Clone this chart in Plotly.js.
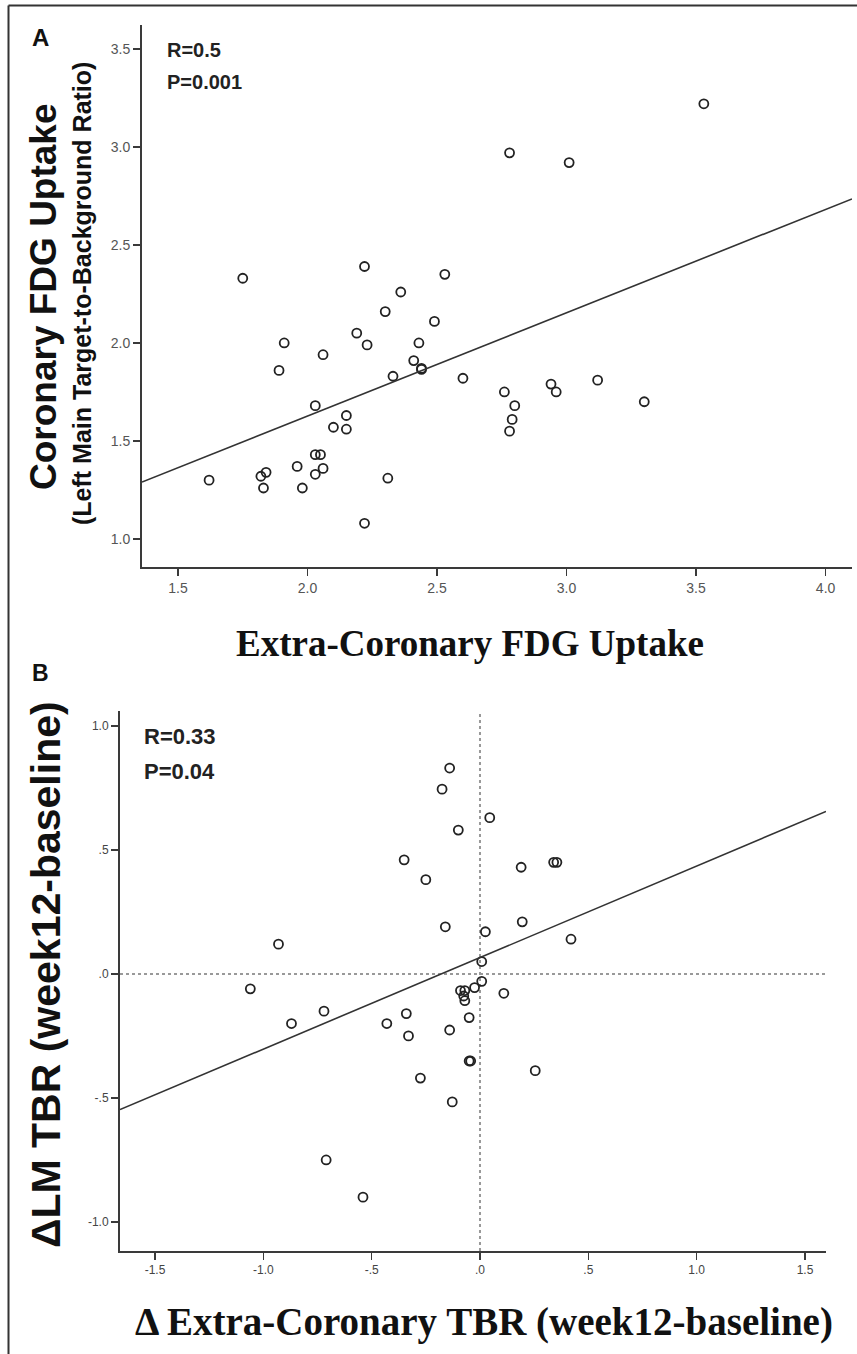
<!DOCTYPE html>
<html>
<head>
<meta charset="utf-8">
<script src="https://cdn.plot.ly/plotly-3.0.1.min.js"></script>
<style>html,body{margin:0;padding:0;background:#fff;}#chart{width:857px;height:1354px;}</style>
</head>
<body>
<div id="chart"></div>
<script>
// ---------- Panel A data ----------
const extraCoronaryA = [1.62,1.82,1.84,1.83,1.89,1.91,1.96,1.98,2.03,2.06,2.03,2.03,2.05,2.06,2.10,2.15,2.15,2.19,2.23,2.30,2.33,2.31,2.22,2.43,2.41,2.44,2.44,2.49,1.75,2.22,2.36,2.53,2.60,2.76,2.80,2.79,2.78,2.94,2.96,3.12,3.30,3.53,2.78,3.01];
const coronaryA = [1.30,1.32,1.34,1.26,1.86,2.00,1.37,1.26,1.68,1.94,1.33,1.43,1.43,1.36,1.57,1.63,1.56,2.05,1.99,2.16,1.83,1.31,1.08,2.00,1.91,1.87,1.865,2.11,2.33,2.39,2.26,2.35,1.82,1.75,1.68,1.61,1.55,1.79,1.75,1.81,1.70,3.22,2.97,2.92];
const fitA_x = [1.361, 4.102];
const fitA_y = [1.290, 2.735];
const tickValsAx = [1.5, 2.0, 2.5, 3.0, 3.5, 4.0];
const tickTextAx = ["1.5", "2.0", "2.5", "3.0", "3.5", "4.0"];
const tickValsAy = [1.0, 1.5, 2.0, 2.5, 3.0, 3.5];
const tickTextAy = ["1.0", "1.5", "2.0", "2.5", "3.0", "3.5"];

// ---------- Panel B data ----------
const deltaExtraB = [-1.06,-0.93,-0.87,-0.72,-0.71,-0.54,-0.43,-0.34,-0.33,-0.275,-0.35,-0.25,-0.14,-0.175,0.045,-0.10,0.19,0.34,0.355,-0.16,0.025,0.195,0.42,0.008,0.008,-0.025,-0.09,-0.07,-0.075,-0.07,0.11,-0.05,-0.14,-0.05,-0.043,0.255,-0.128];
const deltaLMB = [-0.06,0.12,-0.20,-0.15,-0.75,-0.90,-0.20,-0.16,-0.25,-0.42,0.46,0.38,0.83,0.745,0.63,0.58,0.43,0.45,0.45,0.19,0.17,0.21,0.14,0.05,-0.03,-0.055,-0.067,-0.067,-0.089,-0.108,-0.078,-0.176,-0.226,-0.351,-0.351,-0.39,-0.516];
const fitB_x = [-1.6615, 1.597];
const fitB_y = [-0.547, 0.655];
const tickValsBx = [-1.5, -1.0, -0.5, 0, 0.5, 1.0, 1.5];
const tickTextBx = ["-1.5", "-1.0", "-.5", ".0", ".5", "1.0", "1.5"];
const tickValsBy = [-1.0, -0.5, 0, 0.5, 1.0];
const tickTextBy = ["-1.0", "-.5", ".0", ".5", "1.0"];

const W = 857, H = 1354;
const px = v => v / W;
const py = v => 1 - v / H;

const marker = {symbol: 'circle-open', size: 9, color: '#222', line: {width: 1.8, color: '#222'}};
const fitLine = {color: '#333', width: 1.6};

const traces = [
  {x: extraCoronaryA, y: coronaryA, type: 'scatter', mode: 'markers', marker: marker, xaxis: 'x', yaxis: 'y', hoverinfo: 'x+y'},
  {x: fitA_x, y: fitA_y, type: 'scatter', mode: 'lines', line: fitLine, xaxis: 'x', yaxis: 'y'},
  {x: deltaExtraB, y: deltaLMB, type: 'scatter', mode: 'markers', marker: marker, xaxis: 'x2', yaxis: 'y2', hoverinfo: 'x+y'},
  {x: fitB_x, y: fitB_y, type: 'scatter', mode: 'lines', line: fitLine, xaxis: 'x2', yaxis: 'y2'}
];

const tickFontA = {family: 'Liberation Sans, Arial, sans-serif', size: 14, color: '#555'};
const tickFontB = {family: 'Liberation Sans, Arial, sans-serif', size: 12, color: '#444'};
const axisCommon = {showline: true, linecolor: '#3a3a3a', linewidth: 2, ticks: 'outside', ticklen: 7, tickwidth: 1.5, tickcolor: '#3a3a3a', showgrid: false, zeroline: false, fixedrange: true};

const layout = {
  width: W, height: H, autosize: false,
  margin: {l: 0, r: 0, t: 0, b: 0},
  paper_bgcolor: '#fff', plot_bgcolor: '#fff',
  showlegend: false,
  xaxis: Object.assign({}, axisCommon, {domain: [px(142), px(852)], range: [1.361, 4.102], tickvals: tickValsAx, ticktext: tickTextAx, tickfont: tickFontA, anchor: 'y'}),
  yaxis: Object.assign({}, axisCommon, {domain: [py(567), py(25)], range: [0.857, 3.622], tickvals: tickValsAy, ticktext: tickTextAy, tickfont: tickFontA, anchor: 'x'}),
  xaxis2: Object.assign({}, axisCommon, {domain: [px(120), px(826)], range: [-1.6615, 1.597], tickvals: tickValsBx, ticktext: tickTextBx, tickfont: tickFontB, anchor: 'y2'}),
  yaxis2: Object.assign({}, axisCommon, {domain: [py(1251), py(711)], range: [-1.117, 1.060], tickvals: tickValsBy, ticktext: tickTextBy, tickfont: tickFontB, anchor: 'x2'}),
  shapes: [
    {type: 'line', xref: 'paper', yref: 'paper', x0: px(8.5), x1: px(8.5), y0: py(5.5), y1: 0, line: {color: '#333', width: 2}},
    {type: 'line', xref: 'paper', yref: 'paper', x0: px(8.5), x1: 1, y0: py(5.5), y1: py(5.5), line: {color: '#333', width: 2}},
    {type: 'line', xref: 'x2', yref: 'y2 domain', x0: 0, x1: 0, y0: 0, y1: 1, line: {color: '#999', width: 2, dash: 'dot'}, layer: 'below'},
    {type: 'line', xref: 'x2 domain', yref: 'y2', x0: 0, x1: 1, y0: 0, y1: 0, line: {color: '#999', width: 2, dash: 'dot'}, layer: 'below'}
  ],
  annotations: [
    {text: '<b>A</b>', xref: 'paper', yref: 'paper', x: px(40), y: py(38), showarrow: false, xanchor: 'center', yanchor: 'middle', font: {family: 'Liberation Sans, Arial', size: 24, color: '#111'}},
    {text: '<b>R=0.5</b>', xref: 'paper', yref: 'paper', x: px(165), y: py(50), showarrow: false, xanchor: 'left', yanchor: 'middle', font: {family: 'Liberation Sans, Arial', size: 20, color: '#222'}},
    {text: '<b>P=0.001</b>', xref: 'paper', yref: 'paper', x: px(165), y: py(82), showarrow: false, xanchor: 'left', yanchor: 'middle', font: {family: 'Liberation Sans, Arial', size: 20, color: '#222'}},
    {text: '<b>Coronary FDG Uptake</b>', xref: 'paper', yref: 'paper', x: px(43), y: py(297), showarrow: false, textangle: -90, xanchor: 'center', yanchor: 'middle', font: {family: 'Liberation Sans, Arial', size: 37, color: '#111'}},
    {text: '<b>(Left Main Target-to-Background Ratio)</b>', xref: 'paper', yref: 'paper', x: px(82), y: py(294), showarrow: false, textangle: -90, xanchor: 'center', yanchor: 'middle', font: {family: 'Liberation Sans, Arial', size: 25, color: '#111'}},
    {text: '<b>Extra-Coronary FDG Uptake</b>', xref: 'paper', yref: 'paper', x: px(470), y: py(643), showarrow: false, xanchor: 'center', yanchor: 'middle', font: {family: 'Liberation Serif, Times New Roman, serif', size: 37, color: '#111'}},
    {text: '<b>B</b>', xref: 'paper', yref: 'paper', x: px(40), y: py(673), showarrow: false, xanchor: 'center', yanchor: 'middle', font: {family: 'Liberation Sans, Arial', size: 23, color: '#111'}},
    {text: '<b>R=0.33</b>', xref: 'paper', yref: 'paper', x: px(142), y: py(736), showarrow: false, xanchor: 'left', yanchor: 'middle', font: {family: 'Liberation Sans, Arial', size: 22, color: '#222'}},
    {text: '<b>P=0.04</b>', xref: 'paper', yref: 'paper', x: px(142), y: py(771), showarrow: false, xanchor: 'left', yanchor: 'middle', font: {family: 'Liberation Sans, Arial', size: 22, color: '#222'}},
    {text: '<b>ΔLM TBR (week12-baseline)</b>', xref: 'paper', yref: 'paper', x: px(46), y: py(975), showarrow: false, textangle: -90, xanchor: 'center', yanchor: 'middle', font: {family: 'Liberation Sans, Arial', size: 41, color: '#111'}},
    {text: '<b>Δ Extra-Coronary TBR (week12-baseline)</b>', xref: 'paper', yref: 'paper', x: px(484), y: py(1322), showarrow: false, xanchor: 'center', yanchor: 'middle', font: {family: 'Liberation Serif, Times New Roman, serif', size: 39, color: '#111'}}
  ]
};

Plotly.newPlot('chart', traces, layout, {staticPlot: true, displayModeBar: false});
</script>
</body>
</html>
